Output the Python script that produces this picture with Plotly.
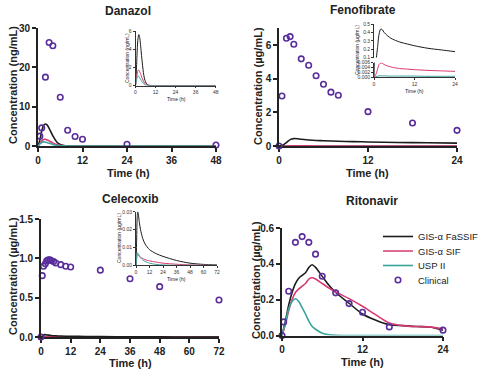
import plotly.graph_objects as go

# ---------------- data ----------------
# Danazol (ng/mL)
dan_t = [0, 0.5, 1, 1.5, 2, 2.5, 3, 4, 5, 6, 7, 8, 10, 12, 24, 36, 48]
dan_fassif = [0, 1.5, 3.8, 5.2, 5.6, 5.3, 4.5, 2.6, 1.1, 0.4, 0.12, 0.03, 0, 0, 0, 0, 0]
dan_sif = [0, 0.6, 1.3, 1.65, 1.7, 1.55, 1.3, 0.8, 0.4, 0.15, 0.05, 0.01, 0, 0, 0, 0, 0]
dan_usp = [0, 0.5, 0.9, 1.05, 1.0, 0.85, 0.7, 0.4, 0.18, 0.06, 0.02, 0, 0, 0, 0, 0, 0]
dan_clin_t = [0.5, 1, 2, 3, 4, 6, 8, 10, 12, 24, 48]
dan_clin = [2.5, 4.6, 17.5, 26.3, 25.5, 12.4, 4.0, 2.4, 1.7, 0.45, 0.25]

# Fenofibrate (µg/mL)
fen_t = [0, 0.5, 1, 1.5, 2, 2.5, 3, 4, 5, 6, 8, 10, 12, 16, 20, 24]
fen_fassif = [0, 0.05, 0.2, 0.38, 0.44, 0.43, 0.40, 0.36, 0.33, 0.31, 0.28, 0.26, 0.24, 0.21, 0.19, 0.17]
fen_sif = [0, 0.001, 0.003, 0.0052, 0.0058, 0.0056, 0.0052, 0.0046, 0.0042, 0.0039, 0.0035,
           0.0033, 0.0031, 0.0028, 0.0026, 0.0024]
fen_usp = [0, 0.0002, 0.0004, 0.0006, 0.0006, 0.0006, 0.0006, 0.0005, 0.0005, 0.0005, 0.0005,
           0.0005, 0.0005, 0.0004, 0.0004, 0.0004]
fen_clin_t = [0, 0.4, 1, 1.5, 2, 3, 4, 5, 6, 7, 8, 12, 18, 24]
fen_clin = [0, 2.97, 6.4, 6.5, 6.05, 5.18, 4.8, 4.17, 3.67, 3.2, 3.02, 2.04, 1.37, 0.93]

# Celecoxib (µg/mL)
cel_t = [0, 0.5, 1, 1.5, 2, 3, 4, 6, 8, 12, 18, 24, 36, 48, 60, 72]
cel_fassif = [0, 0.012, 0.026, 0.030, 0.029, 0.024, 0.020, 0.015, 0.012, 0.0088, 0.0065, 0.005,
              0.0027, 0.0012, 0.0005, 0.0002]
cel_sif = [0, 0.003, 0.0055, 0.006, 0.0058, 0.005, 0.0045, 0.0038, 0.0032, 0.0025, 0.0018, 0.0012,
           0.0006, 0.0002, 0.0001, 0]
cel_usp = [0, 0.004, 0.0068, 0.007, 0.0065, 0.0052, 0.0042, 0.003, 0.0022, 0.0012, 0.0005, 0.0002,
           0, 0, 0, 0]
cel_clin_t = [0, 0.5, 1, 1.75, 2.3, 3, 3.6, 4.3, 5.1, 6, 8, 10, 12, 24, 36, 48, 72]
cel_clin = [0, 0.78, 0.90, 0.93, 0.97, 0.98, 0.98, 0.97, 0.96, 0.94, 0.92, 0.90, 0.89, 0.85, 0.74,
            0.64, 0.47]

# Ritonavir (µg/mL)
rit_t = [0, 0.5, 1, 1.5, 2, 2.5, 3, 3.5, 4, 4.5, 5, 6, 7, 8, 10, 12, 14, 16, 18, 20, 22, 24]
rit_fassif = [0, 0.08, 0.17, 0.24, 0.29, 0.32, 0.335, 0.35, 0.38, 0.395, 0.38, 0.33, 0.28, 0.24,
              0.18, 0.12, 0.085, 0.06, 0.055, 0.05, 0.047, 0.03]
rit_sif = [0, 0.06, 0.14, 0.2, 0.24, 0.26, 0.275, 0.29, 0.315, 0.322, 0.315, 0.29, 0.265, 0.243,
           0.206, 0.163, 0.115, 0.07, 0.055, 0.05, 0.048, 0.037]
rit_usp = [0, 0.07, 0.15, 0.19, 0.205, 0.19, 0.155, 0.12, 0.08, 0.05, 0.035, 0.013, 0.004, 0.001,
           0, 0, 0, 0, 0, 0, 0, 0]
rit_clin_t = [0, 0.25, 1, 2, 3, 4, 5, 6, 8, 10, 12, 16, 24]
rit_clin = [0, 0.076, 0.247, 0.52, 0.552, 0.52, 0.454, 0.331, 0.238, 0.178, 0.13, 0.048, 0.03]

series_names = ["GIS-α FaSSIF", "GIS-α SIF", "USP II", "Clinical"]

# ---------------- style ----------------
C_BLACK = "#1c1c1c"
C_PINK = "#d63a72"
C_TEAL = "#3aa39c"
C_CLIN = "#5a2d9c"
FONT = "Liberation Sans"
W, H = 483, 377


def px(x):
    return x / W


def py(y):
    return 1 - y / H


fig = go.Figure()
legend_ids = ["legend", "legend2", "legend3", "legend4"]


def add_models(t, fa, si, us, ax, width=1.6, legend=False, order=(0, 1, 2)):
    xa, ya = ax
    specs = [(fa, C_BLACK), (si, C_PINK), (us, C_TEAL)]
    for i in order:
        vals, col = specs[i]
        fig.add_trace(go.Scatter(x=t, y=vals, mode="lines", name=series_names[i],
                                 line=dict(color=col, width=width, shape="spline", smoothing=0.8),
                                 xaxis=xa, yaxis=ya, showlegend=legend, legend=legend_ids[i],
                                 hoverinfo="skip"))


def add_clin(t, c, ax, legend=False):
    xa, ya = ax
    fig.add_trace(go.Scatter(x=t, y=c, mode="markers", name=series_names[3],
                             marker=dict(symbol="circle-open", size=5.5, color=C_CLIN,
                                         line=dict(width=1.6, color=C_CLIN)),
                             xaxis=xa, yaxis=ya, showlegend=legend, legend=legend_ids[3],
                             cliponaxis=False))


# Danazol main and inset
add_models(dan_t, dan_fassif, dan_sif, dan_usp, ("x", "y"))
add_clin(dan_clin_t, dan_clin, ("x", "y"))
add_models(dan_t, dan_fassif, dan_sif, dan_usp, ("x5", "y5"), width=1)
# Fenofibrate main and inset (broken axis)
add_models(fen_t, fen_fassif, fen_sif, fen_usp, ("x2", "y2"), order=(2, 1, 0))
add_clin(fen_clin_t, fen_clin, ("x2", "y2"))
add_models(fen_t, fen_fassif, fen_sif, fen_usp, ("x6", "y6"), width=1)
add_models(fen_t, fen_fassif, fen_sif, fen_usp, ("x7", "y7"), width=1)
# Celecoxib main and inset
add_models(cel_t, cel_fassif, cel_sif, cel_usp, ("x3", "y3"), order=(2, 1, 0))
add_clin(cel_clin_t, cel_clin, ("x3", "y3"))
add_models(cel_t, cel_fassif, cel_sif, cel_usp, ("x8", "y8"), width=1)
# Ritonavir
add_models(rit_t, rit_fassif, rit_sif, rit_usp, ("x4", "y4"), legend=True)
add_clin(rit_clin_t, rit_clin, ("x4", "y4"), legend=True)

tickf = dict(family=FONT, size=10, color="#222", weight="bold")
small = dict(family=FONT, size=5, color="#333")


def main_x(dom, rng, dt, anchor, layer="above traces"):
    return dict(domain=[px(dom[0]), px(dom[1])], range=rng, dtick=dt, tick0=0, anchor=anchor,
                showline=True, linecolor="#222", linewidth=1.6, ticks="outside", ticklen=4,
                tickwidth=1.5, tickcolor="#222", showgrid=False, zeroline=False, tickfont=tickf,
                layer=layer, automargin=False)


def main_y(dom, rng, dt, anchor, fmt=None):
    d = dict(domain=[py(dom[0]), py(dom[1])], range=rng, dtick=dt, tick0=0, anchor=anchor,
             showline=True, linecolor="#222", linewidth=1.6, ticks="outside", ticklen=4,
             tickwidth=1.5, tickcolor="#222", showgrid=False, zeroline=False, tickfont=tickf,
             automargin=False)
    if fmt:
        d["tickformat"] = fmt
    return d


def ins_x(dom, rng, dt, anchor, show=True):
    return dict(domain=[px(dom[0]), px(dom[1])], range=rng, dtick=dt, tick0=0, anchor=anchor,
                showline=show, linecolor="#333", linewidth=0.8, ticks="outside" if show else "",
                ticklen=2, tickwidth=0.7, tickcolor="#333", showgrid=False, zeroline=False,
                tickfont=small, showticklabels=show, automargin=False)


def ins_y(dom, rng, dt, anchor, fmt):
    return dict(domain=[py(dom[0]), py(dom[1])], range=rng, dtick=dt, tick0=0, anchor=anchor,
                showline=True, linecolor="#333", linewidth=0.8, ticks="outside", ticklen=2,
                tickwidth=0.7, tickcolor="#333", showgrid=False, zeroline=False, tickfont=small,
                tickformat=fmt, automargin=False)


def leg(row_y):
    return dict(x=px(378), y=py(row_y - 13), xanchor="left", yanchor="top",
                xref="container", yref="container",
                font=dict(family=FONT, size=9.5, color="#222"), bgcolor="rgba(0,0,0,0)",
                itemwidth=30)


fig.update_layout(
    width=W, height=H, margin=dict(l=0, r=0, t=0, b=0, autoexpand=False),
    paper_bgcolor="white", plot_bgcolor="rgba(0,0,0,0)",
    xaxis=main_x((38, 216), [0, 48], 12, "y"),
    yaxis=main_y((146, 28), [0, 30], 10, "x"),
    xaxis2=main_x((279, 457), [0, 24], 12, "y2", layer="below traces"),
    yaxis2=main_y((146, 28.2), [0, 7], 2, "x2"),
    xaxis3=main_x((41, 219), [0, 72], 12, "y3", layer="below traces"),
    yaxis3=main_y((337, 219), [0, 1.5], 0.5, "x3", ".1f"),
    xaxis4=main_x((282, 443), [0, 24], 12, "y4"),
    yaxis4=main_y((335.5, 228), [0, 0.6], 0.2, "x4", ".1f"),
    xaxis5=ins_x((135.5, 215.7), [0, 48], 12, "y5"),
    yaxis5=ins_y((85.5, 31), [0, 6], 2, "x5", "d"),
    xaxis6=ins_x((374, 455), [0, 24], 12, "y6", show=False),
    yaxis6=ins_y((57.5, 24), [0.1, 0.5], 0.1, "x6", ".1f"),
    xaxis7=ins_x((374, 455), [0, 24], 12, "y7"),
    yaxis7=ins_y((77.3, 62.5), [0, 0.006], 0.002, "x7", ".3f"),
    xaxis8=ins_x((136, 217), [0, 72], 12, "y8"),
    yaxis8=ins_y((265.3, 211.8), [0, 0.03], 0.01, "x8", ".2f"),
    legend=leg(235), legend2=leg(249.5), legend3=leg(264), legend4=leg(278.5),
    showlegend=True,
)

ann = []


def text(x, y, s, size, bold=True, angle=0):
    ann.append(dict(x=px(x), y=py(y), xref="paper", yref="paper", text=s, showarrow=False,
                    textangle=angle, xanchor="center", yanchor="middle",
                    font=dict(family=FONT, size=size, color="#222",
                              weight="bold" if bold else "normal")))


# panel titles
text(128, 11, "Danazol", 12)
text(363, 10, "Fenofibrate", 12)
text(130, 199, "Celecoxib", 12)
text(372, 201, "Ritonavir", 12)
# axis titles
text(13, 85, "Concentration (ng/mL)", 11, angle=-90)
text(128, 173, "Time (h)", 11)
text(258, 86, "Concentration (µg/mL)", 11, angle=-90)
text(367, 173, "Time (h)", 11)
text(13, 276, "Concentration (µg/mL)", 11, angle=-90)
text(130, 363, "Time (h)", 11)
text(256, 280, "Concentration (µg/mL)", 11, angle=-90)
text(362, 362, "Time (h)", 11)
# inset titles
text(176, 99, "Time (h)", 5, bold=False)
text(127, 58, "Concentration (ng/mL)", 5, bold=False, angle=-90)
text(414, 91, "Time (h)", 5, bold=False)
text(357, 50, "Concentration (µg/mL)", 5, bold=False, angle=-90)
text(176, 279, "Time (h)", 5, bold=False)
text(119, 238, "Concentration (µg/mL)", 5, bold=False, angle=-90)

fig.update_layout(annotations=ann)
fig.write_html("out.html", config={"displayModeBar": False},
               post_script="document.body.style.margin='0';document.body.style.overflow='hidden';")
